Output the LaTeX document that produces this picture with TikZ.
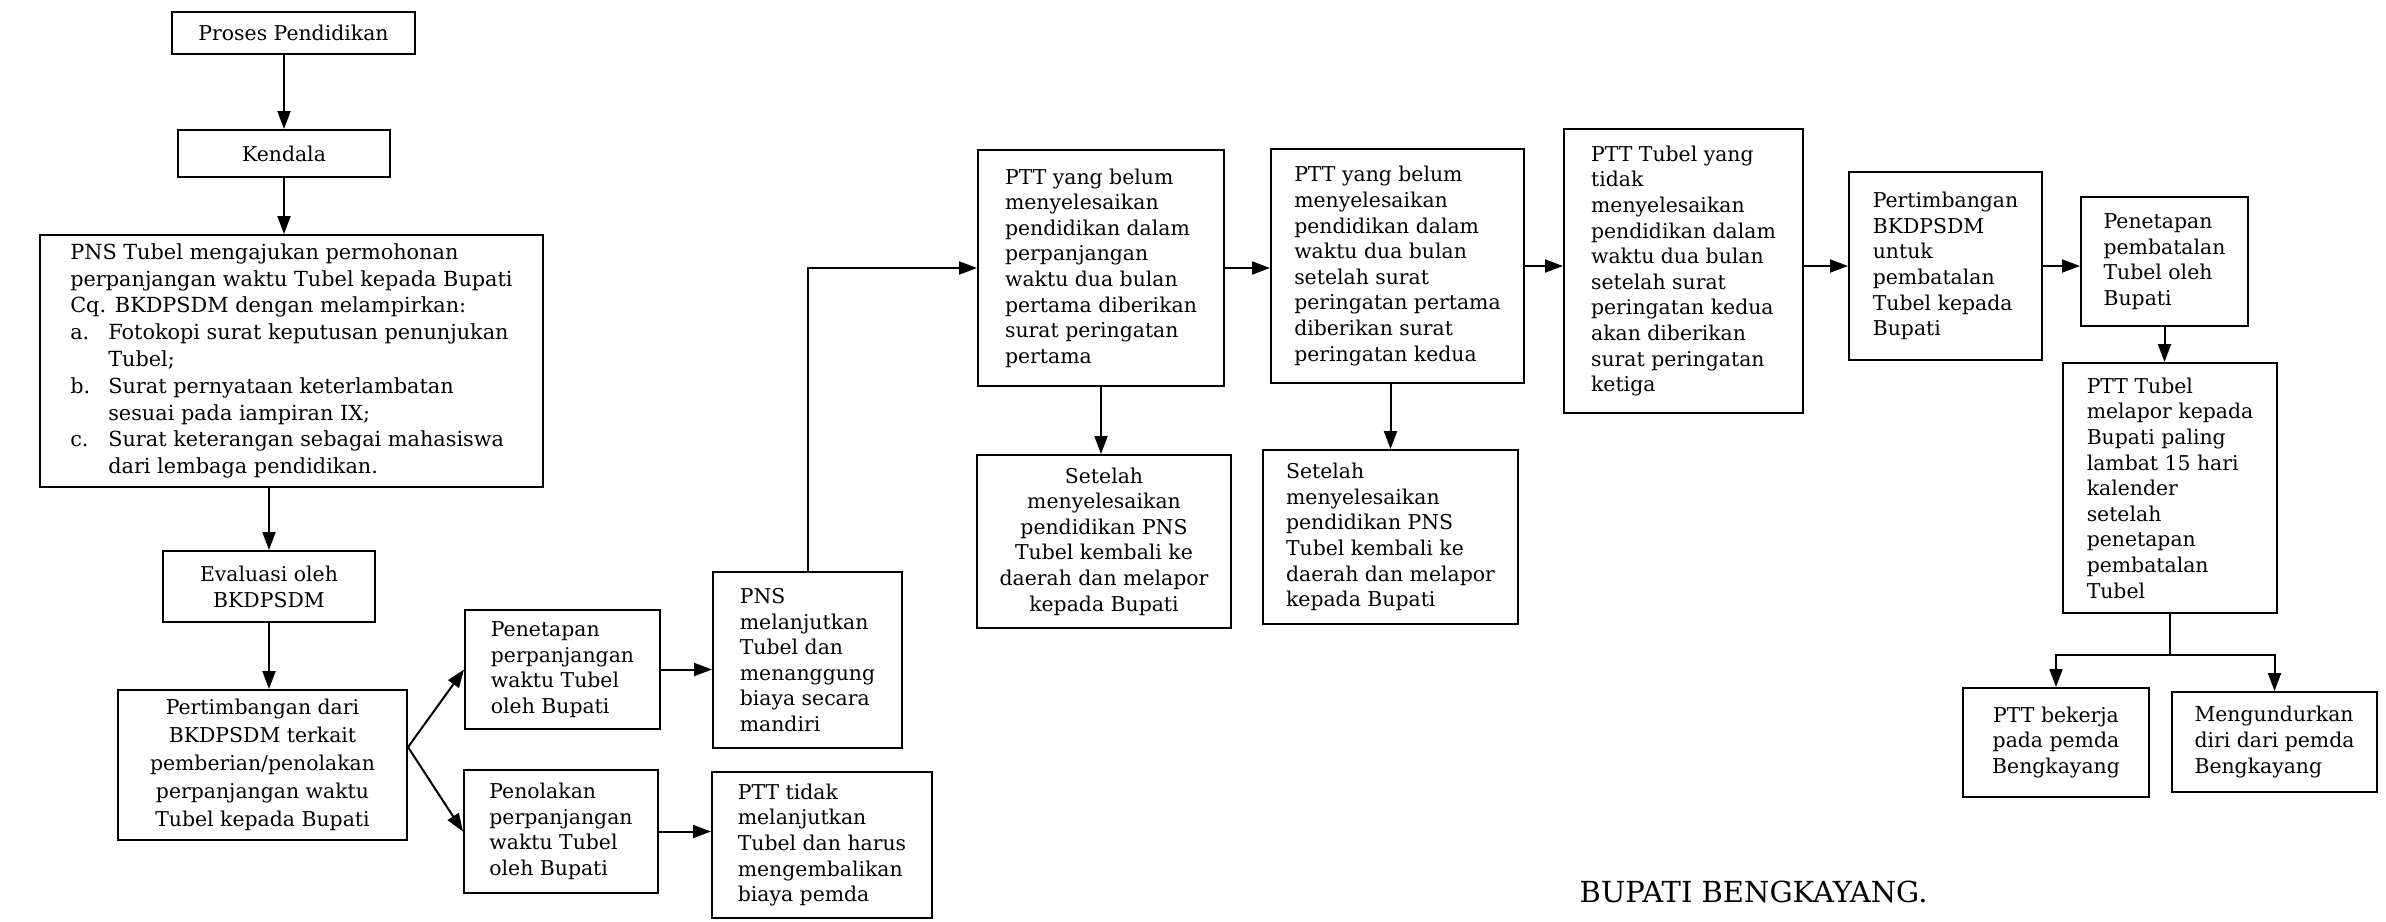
\documentclass[tikz,border=0pt]{standalone}
\usepackage{fontspec}
\setmainfont{DejaVu Serif}
\usetikzlibrary{arrows.meta}
\newcommand{\butir}[1]{\makebox[19pt][l]{#1}}
\newcommand{\sambung}{\hspace*{19pt}}

\begin{document}
\begin{tikzpicture}[x=0.5pt,y=-0.5pt,>={Triangle[length=9pt,width=6.5pt]},
	every path/.style={line width=1pt},
	kotak/.style={draw,align=left,inner sep=2pt,font=\fontsize{10.2}{12.8}\selectfont},
	kotak_tengah/.style={kotak,align=center}]
	\useasboundingbox (0,0) rectangle (2386,921);
	\node[kotak_tengah,minimum width=121.5pt,minimum height=21pt] (proses) at (293.5,33) {Proses Pendidikan};
	\node[kotak_tengah,minimum width=106pt,minimum height=23.5pt] (kendala) at (284,153.5) {Kendala};
	\node[kotak,minimum width=251.5pt,minimum height=126pt,font=\fontsize{10.4}{13.4}\selectfont] (permohonan) at (291.5,361) {PNS Tubel mengajukan permohonan\\perpanjangan waktu Tubel kepada Bupati\\Cq. BKDPSDM dengan melampirkan:\\\butir{a.}Fotokopi surat keputusan penunjukan\\\sambung Tubel;\\\butir{b.}Surat pernyataan keterlambatan\\\sambung sesuai pada iampiran IX;\\\butir{c.}Surat keterangan sebagai mahasiswa\\\sambung dari lembaga pendidikan.};
	\node[kotak_tengah,minimum width=106pt,minimum height=35.5pt,font=\fontsize{10.2}{13}\selectfont] (evaluasi) at (269,586.5) {Evaluasi oleh\\BKDPSDM};
	\node[kotak_tengah,minimum width=144.5pt,minimum height=75pt,font=\fontsize{10.2}{14}\selectfont] (pertimbangan) at (262.5,765) {Pertimbangan dari\\BKDPSDM terkait\\pemberian/penolakan\\perpanjangan waktu\\Tubel kepada Bupati};
	\node[kotak,minimum width=97.5pt,minimum height=59.5pt] (penetapan) at (562.5,669.5) {Penetapan\\perpanjangan\\waktu Tubel\\oleh Bupati};
	\node[kotak,minimum width=97pt,minimum height=61.5pt] (penolakan) at (561,831.5) {Penolakan\\perpanjangan\\waktu Tubel\\oleh Bupati};
	\node[kotak,minimum width=94.5pt,minimum height=88pt] (lanjut) at (807.5,660) {PNS\\melanjutkan\\Tubel dan\\menanggung\\biaya secara\\mandiri};
	\node[kotak,minimum width=110pt,minimum height=73pt] (tidak_lanjut) at (822,845) {PTT tidak\\melanjutkan\\Tubel dan harus\\mengembalikan\\biaya pemda};
	\node[kotak,minimum width=123pt,minimum height=118pt] (peringatan_1) at (1101,268) {PTT yang belum\\menyelesaikan\\pendidikan dalam\\perpanjangan\\waktu dua bulan\\pertama diberikan\\surat peringatan\\pertama};
	\node[kotak_tengah,minimum width=127pt,minimum height=86.5pt] (setelah_1) at (1104,541.5) {Setelah\\menyelesaikan\\pendidikan PNS\\Tubel kembali ke\\daerah dan melapor\\kepada Bupati};
	\node[kotak,minimum width=126.5pt,minimum height=117pt] (peringatan_2) at (1397.5,266) {PTT yang belum\\menyelesaikan\\pendidikan dalam\\waktu dua bulan\\setelah surat\\peringatan pertama\\diberikan surat\\peringatan kedua};
	\node[kotak,minimum width=127.5pt,minimum height=87pt] (setelah_2) at (1390.5,537) {Setelah\\menyelesaikan\\pendidikan PNS\\Tubel kembali ke\\daerah dan melapor\\kepada Bupati};
	\node[kotak,minimum width=119.5pt,minimum height=142pt] (peringatan_3) at (1683.5,271) {PTT Tubel yang\\tidak\\menyelesaikan\\pendidikan dalam\\waktu dua bulan\\setelah surat\\peringatan kedua\\akan diberikan\\surat peringatan\\ketiga};
	\node[kotak,minimum width=96.5pt,minimum height=94pt] (usul_batal) at (1945.5,266) {Pertimbangan\\BKDPSDM\\untuk\\pembatalan\\Tubel kepada\\Bupati};
	\node[kotak,minimum width=83.5pt,minimum height=64.5pt] (batal) at (2164.5,261.5) {Penetapan\\pembatalan\\Tubel oleh\\Bupati};
	\node[kotak,minimum width=107pt,minimum height=125pt] (lapor) at (2170,488) {PTT Tubel\\melapor kepada\\Bupati paling\\lambat 15 hari\\kalender\\setelah\\penetapan\\pembatalan\\Tubel};
	\node[kotak_tengah,minimum width=93pt,minimum height=54.5pt] (bekerja) at (2056,742.5) {PTT bekerja\\pada pemda\\Bengkayang};
	\node[kotak,minimum width=102.5pt,minimum height=50pt] (mundur) at (2274.5,742) {Mengundurkan\\diri dari pemda\\Bengkayang};
	\coordinate (cabang) at (2170,655);
	\node[anchor=base west,font=\fontsize{14.5}{17}\selectfont] (bupati) at (1572,902) {BUPATI BENGKAYANG.};
	\draw[->] (kendala |- proses.south) -- (kendala);
	\draw[->] (kendala) -- (kendala |- permohonan.north);
	\draw[->] (evaluasi |- permohonan.south) -- (evaluasi);
	\draw[->] (evaluasi) -- (evaluasi |- pertimbangan.north);
	\draw[->] (pertimbangan.7) -- (penetapan.west);
	\draw[->] (pertimbangan.7) -- (penolakan.west);
	\draw[->] (penetapan) -- (penetapan -| lanjut.west);
	\draw[->] (penolakan) -- (penolakan -| tidak_lanjut.west);
	\draw[->] (lanjut) |- (peringatan_1);
	\draw[->] (peringatan_1) -- (peringatan_1 |- setelah_1.north);
	\draw[->] (peringatan_1) -- (peringatan_1 -| peringatan_2.west);
	\draw[->] (setelah_2 |- peringatan_2.south) -- (setelah_2);
	\draw[->] (peringatan_2) -- (peringatan_2 -| peringatan_3.west);
	\draw[->] (usul_batal -| peringatan_3.east) -- (usul_batal);
	\draw[->] (usul_batal) -- (usul_batal -| batal.west);
	\draw[->] (batal) -- (batal |- lapor.north);
	\draw (lapor) -- (cabang);
	\draw[->] (cabang) -| (bekerja);
	\draw[->] (cabang) -| (mundur);
\end{tikzpicture}
\end{document}
